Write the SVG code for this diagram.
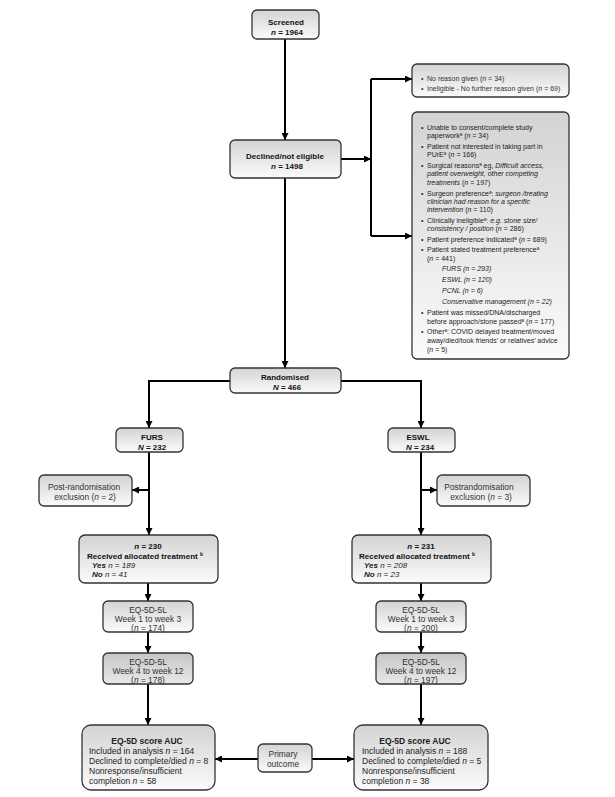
<svg xmlns="http://www.w3.org/2000/svg" width="615" height="797" viewBox="0 0 615 797">
<defs>
<linearGradient id="g" x1="0" y1="0" x2="0" y2="1"><stop offset="0" stop-color="#d3d3d3"/><stop offset="1" stop-color="#fbfbfb"/></linearGradient>
<linearGradient id="g2" x1="0" y1="0" x2="0" y2="1"><stop offset="0" stop-color="#c6c6c6"/><stop offset="1" stop-color="#e8e8e8"/></linearGradient>
<marker id="ah" viewBox="0 0 10 10" refX="10" refY="5" markerWidth="3.5" markerHeight="3.5" orient="auto" markerUnits="strokeWidth"><path d="M0,0L10,5L0,10z" fill="#000"/></marker>
<style>
.box{fill:url(#g);stroke:#333;stroke-width:1.3}
.box2{fill:url(#g2);stroke:#333;stroke-width:1.3}
text{font-family:"Liberation Sans",Arial,sans-serif;fill:#222}
.b{font-weight:bold;font-size:8px;fill:#111}
.m{font-size:8.4px;fill:#333}
.s{font-size:7px;fill:#333}
.l{font-size:8.5px;fill:#222}
.i{font-style:italic}
.c{stroke:#000;stroke-width:2;fill:none}
.ca{stroke:#000;stroke-width:2;fill:none;marker-end:url(#ah)}
</style>
</defs>

<g id="connectors">
<path class="ca" d="M285,39V140"/>
<path class="ca" d="M341,159H371"/>
<path class="c" d="M371,79V236"/>
<path class="ca" d="M371,79H412"/>
<path class="ca" d="M371,236H412"/>
<path class="ca" d="M285,178V368"/>
<path class="c" d="M230,381H149"/>
<path class="ca" d="M149,380V428"/>
<path class="c" d="M341,381H421"/>
<path class="ca" d="M421,380V428"/>
<path class="ca" d="M149,452V535"/>
<path class="ca" d="M149,490H132"/>
<path class="ca" d="M421,452V535"/>
<path class="ca" d="M421,490H437"/>
<path class="ca" d="M148,583V601"/>
<path class="ca" d="M148,632V653"/>
<path class="ca" d="M148,684V725"/>
<path class="ca" d="M421,583V601"/>
<path class="ca" d="M421,632V653"/>
<path class="ca" d="M421,684V725"/>
<path class="ca" d="M258,759H215"/>
<path class="ca" d="M312,759H354"/>
</g>

<g id="screened">
<rect class="box" x="252" y="10" width="67" height="29" rx="5"/>
<text class="b" x="286" y="25" text-anchor="middle">Screened</text>
<text class="b" x="287" y="35" text-anchor="middle"><tspan class="i">n</tspan> = 1964</text>
</g>

<g id="declined">
<rect class="box" x="230" y="140" width="111" height="38" rx="5"/>
<text class="b" x="285" y="159" text-anchor="middle">Declined/not eligible</text>
<text class="b" x="287" y="169" text-anchor="middle"><tspan class="i">n</tspan> = 1498</text>
</g>

<g id="reasons1">
<rect class="box" x="412" y="64" width="157" height="33" rx="5"/>
<text class="s" x="421" y="80.5">•</text>
<text class="s" x="427" y="80.5">No reason given (<tspan class="i">n</tspan> = 34)</text>
<text class="s" x="421" y="90.5">•</text>
<text class="s" x="427" y="90.5">Ineligible - No further reason given (<tspan class="i">n</tspan> = 69)</text>
</g>

<g id="reasons2">
<rect class="box" x="412" y="112" width="157" height="247" rx="5"/>
<g class="s">
<text x="421" y="129.5">•</text>
<text x="427" y="129.5">Unable to consent/complete study</text>
<text x="427" y="138">paperwork<tspan font-size="4.5" baseline-shift="super">a</tspan> (<tspan class="i">n</tspan> = 34)</text>
<text x="421" y="148.5">•</text>
<text x="427" y="148.5">Patient not interested in taking part in</text>
<text x="427" y="157">PUrE<tspan font-size="4.5" baseline-shift="super">a</tspan> (<tspan class="i">n</tspan> = 166)</text>
<text x="421" y="167.5">•</text>
<text x="427" y="167.5">Surgical reasons<tspan font-size="4.5" baseline-shift="super">a</tspan> eg, <tspan class="i">Difficult access,</tspan></text>
<text x="427" y="176" class="i">patient overweight, other competing</text>
<text x="427" y="184.5"><tspan class="i">treatments</tspan> (<tspan class="i">n</tspan> = 197)</text>
<text x="421" y="195.5">•</text>
<text x="427" y="195.5">Surgeon preference<tspan font-size="4.5" baseline-shift="super">a</tspan>: <tspan class="i">surgeon /treating</tspan></text>
<text x="427" y="204" class="i">clinician had reason for a specific</text>
<text x="427" y="212"><tspan class="i">intervention</tspan> (<tspan class="i">n</tspan> = 110)</text>
<text x="421" y="222.5">•</text>
<text x="427" y="222.5">Clinically ineligible<tspan font-size="4.5" baseline-shift="super">a</tspan>: <tspan class="i">e.g. stone size/</tspan></text>
<text x="427" y="231"><tspan class="i">consistency / position</tspan> (<tspan class="i">n</tspan> = 286)</text>
<text x="421" y="241.5">•</text>
<text x="427" y="241.5">Patient preference indicated<tspan font-size="4.5" baseline-shift="super">a</tspan> (<tspan class="i">n</tspan> = 689)</text>
<text x="421" y="251.5">•</text>
<text x="427" y="251.5">Patient stated treatment preference<tspan font-size="4.5" baseline-shift="super">a</tspan></text>
<text x="427" y="260.5">(<tspan class="i">n</tspan> = 441)</text>
<text x="442" y="270.5" class="i">FURS (n = 293)</text>
<text x="442" y="282" class="i">ESWL (n = 120)</text>
<text x="442" y="292.5" class="i">PCNL (n = 6)</text>
<text x="442" y="303.5" class="i">Conservative management (n = 22)</text>
<text x="421" y="314.5">•</text>
<text x="427" y="314.5">Patient was missed/DNA/discharged</text>
<text x="427" y="323.5">before approach/stone passed<tspan font-size="4.5" baseline-shift="super">a</tspan> (<tspan class="i">n</tspan> = 177)</text>
<text x="421" y="333.5">•</text>
<text x="427" y="333.5">Other<tspan font-size="4.5" baseline-shift="super">a</tspan>: COVID delayed treatment/moved</text>
<text x="427" y="342.5">away/died/took friends’ or relatives’ advice</text>
<text x="427" y="351.5">(<tspan class="i">n</tspan> = 5)</text>
</g>
</g>

<g id="randomised">
<rect class="box" x="230" y="368" width="111" height="25" rx="5"/>
<text class="b" x="285" y="380" text-anchor="middle">Randomised</text>
<text class="b" x="287" y="390" text-anchor="middle"><tspan class="i">N</tspan> = 466</text>
</g>

<g id="furs">
<rect class="box" x="116" y="428" width="67" height="24" rx="5"/>
<text class="b" x="152" y="440" text-anchor="middle">FURS</text>
<text class="b" x="152" y="450" text-anchor="middle"><tspan class="i">N</tspan> = 232</text>
</g>

<g id="eswl">
<rect class="box" x="388" y="428" width="67" height="24" rx="5"/>
<text class="b" x="418" y="440" text-anchor="middle">ESWL</text>
<text class="b" x="420" y="450" text-anchor="middle"><tspan class="i">N</tspan> = 234</text>
</g>

<g id="excl-furs">
<rect class="box" x="39" y="475" width="93" height="31" rx="5"/>
<text class="m" x="84" y="490" text-anchor="middle">Post-randomisation</text>
<text class="m" x="85" y="500" text-anchor="middle">exclusion (<tspan class="i">n</tspan> = 2)</text>
</g>

<g id="excl-eswl">
<rect class="box" x="437" y="475" width="93" height="31" rx="5"/>
<text class="m" x="479" y="490" text-anchor="middle">Postrandomisation</text>
<text class="m" x="481" y="500" text-anchor="middle">exclusion (<tspan class="i">n</tspan> = 3)</text>
</g>

<g id="treat-furs">
<rect class="box" x="79" y="535" width="139" height="48" rx="6"/>
<text class="b" x="148" y="549" text-anchor="middle"><tspan class="i">n</tspan> = 230</text>
<text class="b" x="87" y="559">Received allocated treatment <tspan font-size="5" baseline-shift="super">b</tspan></text>
<text x="92" y="568" font-size="8" class="i"><tspan font-weight="bold">Yes</tspan> n  = 189</text>
<text x="92" y="577" font-size="8" class="i"><tspan font-weight="bold">No</tspan> n = 41</text>
</g>

<g id="treat-eswl">
<rect class="box" x="352" y="535" width="139" height="48" rx="6"/>
<text class="b" x="421" y="549" text-anchor="middle"><tspan class="i">n</tspan> = 231</text>
<text class="b" x="359" y="559">Received allocated treatment <tspan font-size="5" baseline-shift="super">b</tspan></text>
<text x="364" y="568" font-size="8" class="i"><tspan font-weight="bold">Yes</tspan> n = 208</text>
<text x="364" y="577" font-size="8" class="i"><tspan font-weight="bold">No</tspan> n = 23</text>
</g>

<g id="eq1-furs">
<rect class="box" x="103" y="601" width="90" height="31" rx="5"/>
<text class="m" x="148" y="613" text-anchor="middle">EQ-5D-5L</text>
<text class="m" x="148" y="622" text-anchor="middle">Week 1 to week 3</text>
<text class="m" x="148" y="631" text-anchor="middle">(<tspan class="i">n</tspan> = 174)</text>
</g>

<g id="eq2-furs">
<rect class="box2" x="103" y="653" width="90" height="31" rx="5"/>
<text class="m" x="148" y="665" text-anchor="middle">EQ-5D-5L</text>
<text class="m" x="148" y="674" text-anchor="middle">Week 4 to week 12</text>
<text class="m" x="148" y="683" text-anchor="middle">(<tspan class="i">n</tspan> = 178)</text>
</g>

<g id="eq1-eswl">
<rect class="box" x="376" y="601" width="90" height="31" rx="5"/>
<text class="m" x="421" y="613" text-anchor="middle">EQ-5D-5L</text>
<text class="m" x="421" y="622" text-anchor="middle">Week 1 to week 3</text>
<text class="m" x="421" y="631" text-anchor="middle">(<tspan class="i">n</tspan> = 200)</text>
</g>

<g id="eq2-eswl">
<rect class="box2" x="376" y="653" width="90" height="31" rx="5"/>
<text class="m" x="421" y="665" text-anchor="middle">EQ-5D-5L</text>
<text class="m" x="421" y="674" text-anchor="middle">Week 4 to week 12</text>
<text class="m" x="421" y="683" text-anchor="middle">(<tspan class="i">n</tspan> = 197)</text>
</g>

<g id="auc-furs">
<rect class="box" x="82" y="725" width="133" height="65" rx="9"/>
<text class="l" x="147" y="744" text-anchor="middle" font-weight="bold">EQ-5D score AUC</text>
<text class="l" x="89" y="754">Included in analysis <tspan class="i">n</tspan> = 164</text>
<text class="l" x="89" y="764">Declined to complete/died <tspan class="i">n</tspan> = 8</text>
<text class="l" x="89" y="774">Nonresponse/insufficient</text>
<text class="l" x="89" y="783.5">completion <tspan class="i">n</tspan> = 58</text>
</g>

<g id="primary">
<rect class="box" x="258" y="744" width="54" height="28" rx="5"/>
<text class="m" x="283" y="757" text-anchor="middle">Primary</text>
<text class="m" x="283" y="767" text-anchor="middle">outcome</text>
</g>

<g id="auc-eswl">
<rect class="box" x="354" y="725" width="134" height="65" rx="9"/>
<text class="l" x="415" y="744" text-anchor="middle" font-weight="bold">EQ-5D score AUC</text>
<text class="l" x="362" y="754">Included in analysis <tspan class="i">n</tspan> = 188</text>
<text class="l" x="362" y="764">Declined to complete/died <tspan class="i">n</tspan> = 5</text>
<text class="l" x="362" y="774">Nonresponse/insufficient</text>
<text class="l" x="362" y="783.5">completion <tspan class="i">n</tspan> = 38</text>
</g>
</svg>
